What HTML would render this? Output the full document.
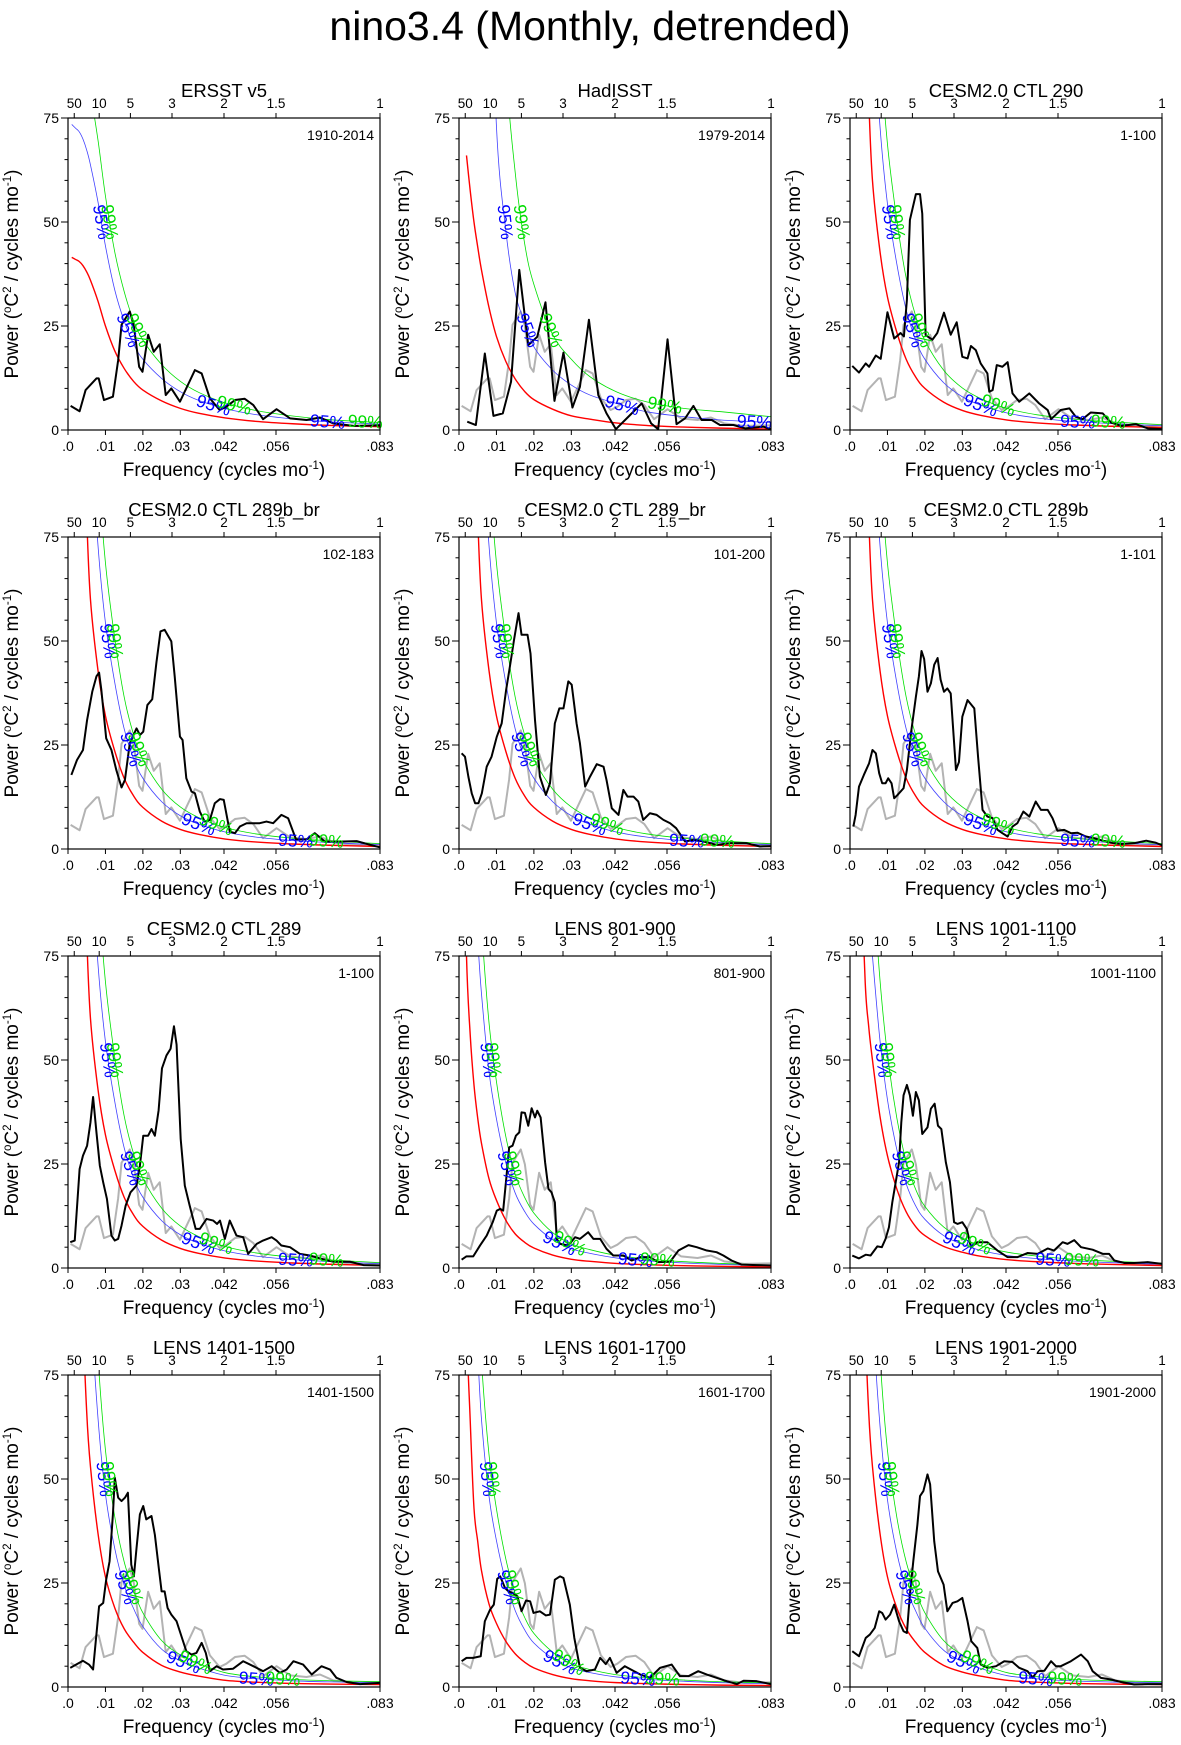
<!DOCTYPE html>
<html><head><meta charset="utf-8"><title>nino3.4 (Monthly, detrended)</title>
<style>
html,body{margin:0;padding:0;background:#fff;}
svg{display:block;font-family:"Liberation Sans",Arial,sans-serif;}
</style></head>
<body>
<svg id="fig" width="1181" height="1745" viewBox="0 0 1181 1745" xmlns="http://www.w3.org/2000/svg">
<rect x="0" y="0" width="1181" height="1745" fill="#fff"/>
<text x="590" y="40" font-size="41" text-anchor="middle">nino3.4 (Monthly, detrended)</text>
</svg>
<script>
// ---- common grids ----
const curveFreq = [0.001,0.002,0.003,0.004,0.005,0.006,0.008,0.010,0.0125,0.015,0.0175,0.02,0.025,0.03,0.035,0.042,0.05,0.06,0.07,0.0833];
const bottomTickValues = [0,0.01,0.02,0.03,0.041667,0.055556,0.083333];
const bottomTickLabels = [".0",".01",".02",".03",".042",".056",".083"];
const topPeriods = [50,10,5,3,2,1.5,1];
const topPeriodLabels = ["50","10","5","3","2","1.5","1"];
const yMajorTicks = [0,25,50,75];
const yMinorTicks = [5,10,15,20,30,35,40,45,55,60,65,70];
const sigLevels = [50,24,6,2];

// ---- red-noise (AR1) spectra, per panel ----
const red1 = [41.5,41,40.5,39.5,38,36,31,25,19,14.8,11.7,9.6,7,5.2,4,2.9,2.1,1.5,1.1,0.8];
const red2 = [null,66,57.5,50,44,38.5,29.5,22.5,16.5,12.3,9.3,7.3,5,3.4,2.6,1.7,1.1,0.7,0.45,0.2];
const blue2 = [null,null,null,null,null,null,130,73,48,33,26,20,14.4,10.8,8.4,6.4,4.4,3.2,2.4,1.8];
const green2 = [null,null,null,null,null,null,null,140,88,62,45,35,23,17,12.8,9.2,6.8,5.2,4.4,3.2];
const redModel = [900,300,170,115,80,60,43,32,23.5,17,12.8,10,6.7,4.7,3.5,2.4,1.7,1.2,0.9,0.6];
const redL801 = [120,75,56,44,36,30,21.5,16.3,11.5,8.2,6.2,4.8,3.1,2.1,1.6,1.1,0.8,0.55,0.4,0.25];
const redL1001 = [400,200,105,70,58,50,36.5,27,19,13.5,10,7.8,5.2,3.8,2.8,2,1.5,1.1,0.85,0.6];
const redL1401 = [500,250,140,90,66,53,37,26.5,19,14,10.8,8.3,5.2,3.6,2.6,1.6,1.15,0.85,0.7,0.6];
const redL1601 = [150,90,64,43,35,28,20,15.3,11,8,6,4.6,3,2,1.5,1.05,0.8,0.6,0.45,0.35];
const redL1901 = [500,250,140,90,66,53,37,26.5,19,14,10.8,8.3,5.2,3.6,2.6,1.6,1.15,0.85,0.7,0.6];

// ---- observed / model spectra (frequency, power) ----
const ersstFreq = [.0007,.0031,.0047,.0076,.0082,.0096,.012,.0134,.0143,.0165,.0176,.019,.0199,.0214,.0229,.0245,.0261,.0276,.0299,.0339,.0357,.0379,.0405,.0423,.0446,.0472,.0495,.0521,.0557,.0593,.0637,.0673,.0708,.0762,.0833];
const ersstPower = [5.8,4.5,9.6,12.4,12.4,7.2,8,16.8,25.3,28.5,24.9,15.2,14,22.9,18.8,20.6,8.4,10,6.8,14.4,13.6,7.6,4.8,5.6,7.2,7.5,6,2.6,5,2.8,2.4,3,1.6,1,1.1];

const hadFreq = [.0022,.0045,.0069,.0092,.0117,.0139,.0161,.0185,.0209,.0231,.0255,.0279,.0303,.0323,.0347,.0372,.0394,.0419,.0457,.0488,.0513,.0532,.0557,.0581,.0604,.0626,.0648,.0675,.0697,.0733,.0764,.0813,.0833];
const hadPower = [2,1.2,18.4,3.4,4,11.6,38.5,20.4,22.4,30.7,7,18.6,5.4,10.4,26.5,8.4,4,0.2,3.6,6.4,1.6,0.2,21.8,1.4,2.8,5.8,2.4,2.4,1.2,1.2,0.4,0.8,0.2];

const c290Freq = [.0006,.0024,.0042,.0051,.0069,.0082,.01,.0118,.0135,.0144,.0152,.016,.0176,.0187,.0193,.0202,.022,.0233,.0251,.0269,.0285,.03,.0314,.0323,.0336,.0349,.0367,.0372,.0381,.0392,.0407,.0421,.0434,.0452,.0479,.0505,.0528,.0537,.0563,.0586,.0603,.0621,.0643,.0675,.0697,.0724,.0764,.0795,.0833];
const c290Power = [15.4,13.8,16,15.2,17.9,17.1,28.3,22,23.3,22.5,31.3,50.5,56.7,56.7,52,22.8,21.7,23.3,28.2,22.9,25.9,17.6,17.2,20.2,19.2,16,13.6,9.2,9.6,15.6,15.2,16.3,8.8,6.8,8.8,6.4,4.8,2.6,4.8,5.2,3.2,2.6,4.2,4,1.8,1,1.4,0.4,0.2];

const c289bbrFreq = [.0009,.0024,.004,.0051,.0065,.0076,.0083,.0089,.0102,.0116,.0129,.0143,.0152,.0165,.0183,.0192,.0201,.0212,.0225,.0236,.0247,.0258,.0276,.0285,.0299,.0306,.0316,.033,.0339,.0352,.0365,.0379,.0392,.0406,.0416,.0432,.0446,.0459,.0477,.0495,.0512,.053,.0548,.057,.0588,.0609,.0637,.0659,.0686,.0735,.0771,.0807,.0833];
const c289bbrPower = [17.8,21.4,23.8,31,37.9,41.5,42.4,38.3,26.6,23.8,19,14.8,16.6,25.4,29,27.4,28.2,34.6,36,44.7,52.3,52.7,49.9,41.5,27,26.2,17,13.8,13.4,9,6.6,7,11,12,11.8,4.2,3.8,5.4,6.2,6.2,6.2,6.6,6.2,8.2,7.4,2.3,2.3,3.8,1.8,1.8,1.9,1,0.4];

const c289brFreq = [.0007,.0016,.0025,.0034,.0043,.0052,.0061,.0074,.0087,.0101,.0114,.0126,.0136,.0147,.0159,.0167,.0183,.0191,.0203,.0216,.0232,.0243,.0256,.0268,.0279,.0292,.0301,.0314,.0323,.0337,.035,.0368,.0386,.0394,.0408,.0426,.0439,.045,.0466,.0479,.0492,.051,.0528,.0546,.0564,.058,.0604,.0626,.0653,.0688,.0724,.0768,.0804,.0833];
const c289brPower = [23,22.2,17.4,13.4,11,11,13.4,19.8,22.2,27,30.2,38.3,43.9,50.3,56.7,51.5,51.5,47,31,17.4,13,15.8,30.2,33.8,33.8,40.3,39.5,30.2,25.4,15,17.4,20.4,19.8,16.6,9.8,8.2,14.2,12.6,12.6,11.4,7,8.6,8.2,7,6.2,5,1.8,2.2,1.8,1,1.4,1.4,0.6,0.7];

const c289bFreq = [.0009,.0015,.0024,.0037,.0051,.006,.0069,.0078,.0086,.0095,.0102,.0111,.0118,.0127,.0143,.0152,.0164,.0176,.0184,.0191,.0198,.0207,.0216,.0225,.0234,.0242,.0251,.026,.0269,.0283,.0291,.03,.0314,.0332,.0342,.0354,.0367,.0381,.0394,.0407,.0421,.0434,.0447,.0463,.0479,.0496,.051,.0528,.0541,.0554,.0572,.059,.0608,.063,.0652,.0675,.0697,.0724,.0759,.0791,.0817,.0833];
const c289bPower = [5.4,8.2,15,17.8,20.6,23.8,23,18.2,15.8,15.8,17,15.8,12.2,13,14.6,19,28.6,36.6,41.5,47.6,45.7,37.8,39.8,44.3,45.9,40.7,37.8,38.6,37.4,19,20.9,31.8,35.8,33.8,22.2,9.4,7.8,7.4,4.6,3.8,3,5.4,6.2,9,7.8,11.4,9.4,9.4,7.4,4.4,4.6,3.8,3.9,3,2.6,2,1.5,1.2,1.4,2,1.5,0.9];

const c289Freq = [.0006,.0018,.0031,.004,.0051,.006,.0067,.0076,.0085,.0094,.0104,.0116,.0125,.0134,.0143,.0154,.0167,.0183,.0192,.0201,.0214,.0223,.0232,.0242,.0251,.0263,.0274,.0283,.029,.0301,.0312,.0325,.0341,.0352,.037,.0388,.0398,.0406,.0419,.0432,.045,.0468,.0481,.0504,.0521,.0544,.0557,.057,.0593,.0619,.0646,.0673,.0709,.0753,.0789,.0833];
const c289Power = [6.2,6.6,23.8,27,29.4,35,41.1,32.6,24.6,20.6,16.6,7.8,6.6,7,10.2,15,18.2,19.8,24.6,31.8,31.8,33.4,31.8,37.9,48,51.1,52.7,58.1,53.7,31,19.8,15,9.4,9.4,11.8,11.4,10.6,11.4,7,11.4,7.8,7.4,3.4,5.8,6.6,7.4,6.6,5.4,5,3.4,3,2.3,1.5,1.5,0.7,0.6];

const l801Freq = [.0007,.002,.0038,.0056,.0074,.009,.0101,.011,.0118,.0127,.0134,.0143,.0152,.0161,.0167,.0176,.0185,.0194,.0203,.0209,.0218,.023,.0239,.0247,.0256,.0261,.027,.0292,.031,.0323,.0345,.0359,.0377,.0394,.0412,.0439,.0461,.0484,.051,.0532,.0564,.0586,.0613,.0635,.0662,.0688,.0706,.0728,.0755,.0795,.0833];
const l801Power = [2,2.8,2.8,5.4,7.8,11,13.8,14.2,13.8,22.2,29,29.4,31.8,32.6,37.4,37.3,34.2,38.4,36.2,37.8,36.2,25.4,19,18.2,15.8,7,5.8,5.4,7.4,7,8.6,7,7,4.6,3,3,1.8,2.6,2.6,1.4,1.5,4.2,5.5,5,4.2,3.8,3,1.8,0.8,0.7,0.6];

const l1001Freq = [.0006,.0024,.0042,.0055,.0073,.0085,.0095,.0104,.0113,.0122,.0131,.0137,.0143,.0152,.016,.0168,.0176,.0184,.0193,.0207,.0216,.0226,.0235,.0244,.0256,.0267,.0278,.0287,.03,.0312,.0323,.034,.0367,.0394,.0421,.0447,.0474,.0501,.0528,.0545,.0568,.0581,.0599,.0617,.0648,.0675,.0692,.0706,.0733,.0759,.0795,.0833];
const l1001Power = [3,2.3,3.2,3,5.2,5,7,9.8,15.8,20.6,25.4,35,41.5,44,41.5,36.6,42.3,40.3,32.2,33.8,38.3,39.5,34.2,33.4,25.4,20.6,11,10.6,11,9.4,5,6.2,6.2,4.2,2.6,2.6,3.6,3.4,4.7,4.2,6.2,5.8,6.7,5,4.4,3.4,3.4,1.8,1.2,1.2,1.4,1];

const l1401Freq = [.0006,.0022,.004,.0056,.0067,.0083,.0094,.0102,.0111,.012,.0125,.0134,.0143,.0152,.016,.0169,.0176,.0183,.0192,.0201,.0209,.0223,.0232,.0243,.025,.0258,.0266,.0276,.029,.0303,.0316,.033,.0343,.0357,.0368,.0379,.0397,.0414,.0441,.0468,.0495,.0521,.0544,.0566,.0584,.0602,.0628,.0651,.0677,.07,.0717,.0744,.078,.0833];
const l1401Power = [4.6,5.4,6.3,5.4,4.2,19.4,20.2,25.8,30.2,41.5,50.3,45.5,44.7,45.5,46.7,29.4,26.6,33.4,41.5,43.5,40.3,41.1,36.6,28.2,23,23,19,17.4,15.8,12.2,8.6,7.8,8.2,10.6,8.2,3.8,5,4.2,4.4,6.2,5,3.8,5,3.4,4.2,6.2,5.4,3,5,4.2,2.2,1.2,0.7,1];

const l1601Freq = [.0007,.002,.0038,.0058,.0069,.0083,.0093,.0102,.011,.0123,.0132,.0143,.0156,.0167,.0179,.019,.0199,.0216,.0232,.0243,.0256,.027,.0279,.0296,.0308,.0323,.0341,.0363,.0377,.0392,.0403,.0421,.0443,.0484,.051,.0537,.0568,.059,.0613,.0639,.0662,.0688,.0715,.0742,.076,.0795,.0833];
const l1601Power = [6.2,7,7,7.4,15.8,18.6,19.8,26,26.6,23.8,23,22.6,21.8,18.2,20.8,20.6,17.8,18.2,17.2,17.4,25.8,26.6,26.2,19.8,11.8,4.6,3.8,4.2,7,5.5,7,3.4,5,3,2.2,4.6,5.4,2.6,2.6,3.8,3,2.2,1.4,0.7,1.5,1.4,0.7];

const l1901Freq = [.0006,.0024,.0042,.0053,.0066,.0078,.0086,.0095,.0107,.0118,.0131,.0143,.0152,.016,.0169,.018,.0187,.0196,.0207,.0214,.0225,.0235,.025,.026,.0274,.0287,.03,.0314,.0324,.034,.0349,.0367,.039,.0412,.0434,.0452,.0474,.0488,.0501,.0519,.0537,.055,.0563,.059,.0617,.0635,.0648,.067,.0697,.0724,.0759,.0795,.0833];
const l1901Power = [8.6,7.4,11.8,12.6,14.2,18.2,17.8,16.2,17.4,19.8,15.8,13.4,13,22.2,30.2,39,45.9,47.1,51.1,48.7,35,27.8,24.6,18.2,20.2,20.6,21.4,15.8,11,9.4,5.4,4.6,5,6.2,6,4.6,3.8,2.3,3.8,3.9,6.2,5,5,6.2,7.8,6.2,3.8,2.2,1.8,1.2,0.6,0.7,0.7];

// ---- layout ----
const colLeft = [68,459,850];
const rowTop = [118,537,956,1375];
const PW = 312, PH = 312, FMAX = 0.083333, YMAX = 75;
const NS = "http://www.w3.org/2000/svg";
const svg = document.getElementById("fig");

const panels = [
 {title:"ERSST v5", period:"1910-2014", fr:ersstFreq, pw:ersstPower, red:red1, bf:1.77, gf:2.25, gray:false},
 {title:"HadISST", period:"1979-2014", fr:hadFreq, pw:hadPower, red:red2, blue:blue2, green:green2, gray:true},
 {title:"CESM2.0 CTL 290", period:"1-100", fr:c290Freq, pw:c290Power, red:redModel, bf:1.7, gf:2.15, gray:true},
 {title:"CESM2.0 CTL 289b_br", period:"102-183", fr:c289bbrFreq, pw:c289bbrPower, red:redModel, bf:1.7, gf:2.15, gray:true},
 {title:"CESM2.0 CTL 289_br", period:"101-200", fr:c289brFreq, pw:c289brPower, red:redModel, bf:1.7, gf:2.15, gray:true},
 {title:"CESM2.0 CTL 289b", period:"1-101", fr:c289bFreq, pw:c289bPower, red:redModel, bf:1.7, gf:2.15, gray:true},
 {title:"CESM2.0 CTL 289", period:"1-100", fr:c289Freq, pw:c289Power, red:redModel, bf:1.7, gf:2.15, gray:true},
 {title:"LENS 801-900", period:"801-900", fr:l801Freq, pw:l801Power, red:redL801, bf:2.2, gf:2.75, gray:true},
 {title:"LENS 1001-1100", period:"1001-1100", fr:l1001Freq, pw:l1001Power, red:redL1001, bf:1.5, gf:1.9, gray:true},
 {title:"LENS 1401-1500", period:"1401-1500", fr:l1401Freq, pw:l1401Power, red:redL1401, bf:1.75, gf:2.15, gray:true},
 {title:"LENS 1601-1700", period:"1601-1700", fr:l1601Freq, pw:l1601Power, red:redL1601, bf:2.3, gf:2.8, gray:true},
 {title:"LENS 1901-2000", period:"1901-2000", fr:l1901Freq, pw:l1901Power, red:redL1901, bf:1.7, gf:2.15, gray:true}
];

function mk(tag, attrs, parent){
  const e = document.createElementNS(NS, tag);
  for (const k in attrs) e.setAttribute(k, attrs[k]);
  (parent||svg).appendChild(e);
  return e;
}
function smooth(pts){
  if (pts.length < 2) return "";
  let d = "M"+pts[0][0].toFixed(2)+","+pts[0][1].toFixed(2);
  for (let i=0;i<pts.length-1;i++){
    const p0 = pts[Math.max(0,i-1)], p1 = pts[i], p2 = pts[i+1], p3 = pts[Math.min(pts.length-1,i+2)];
    const c1x = p1[0]+(p2[0]-p0[0])/6, c1y = p1[1]+(p2[1]-p0[1])/6;
    const c2x = p2[0]-(p3[0]-p1[0])/6, c2y = p2[1]-(p3[1]-p1[1])/6;
    d += " C"+c1x.toFixed(2)+","+c1y.toFixed(2)+" "+c2x.toFixed(2)+","+c2y.toFixed(2)+" "+p2[0].toFixed(2)+","+p2[1].toFixed(2);
  }
  return d;
}
function interp(fs, vs, f){
  for (let i=0;i<fs.length-1;i++){
    if (f>=fs[i] && f<=fs[i+1]) return vs[i]+(vs[i+1]-vs[i])*(f-fs[i])/(fs[i+1]-fs[i]);
  }
  return null;
}

panels.forEach((p, idx) => {
  const L = colLeft[idx%3], T = rowTop[Math.floor(idx/3)];
  const xs = f => L + f/FMAX*PW;
  const ys = v => T + PH - v/YMAX*PH;
  const g = mk("g", {});
  
  
  const cid = "clip"+idx;
  const cp = mk("clipPath", {id:cid}, g);
  mk("rect", {x:L, y:T, width:PW, height:PH}, cp);

  const tt = mk("text", {x:L+156, y:T-21, "font-size":18.5, "text-anchor":"middle"}, g);
  tt.textContent = p.title;
  
  
  const pl = mk("text", {x:L+306, y:T+22, "font-size":14, "text-anchor":"end"}, g);
  pl.textContent = p.period;
  
  

  const cg = mk("g", {"clip-path":"url(#"+cid+")"}, g);
  function gridPts(vals){
    const pts = [];
    curveFreq.forEach((f,i)=>{ if (vals[i]!==null && vals[i]!==undefined) pts.push([xs(f), ys(Math.min(vals[i],400))]); });
    return pts;
  }
  const redVals = p.red;
  const blueVals = p.blue ? p.blue : p.red.map(v => v===null?null:v*p.bf);
  const greenVals = p.green ? p.green : p.red.map(v => v===null?null:v*p.gf);
  if (p.gray){
    const gp = mk("polyline", {points:ersstFreq.map((f,i)=>xs(f).toFixed(2)+","+ys(ersstPower[i]).toFixed(2)).join(" "), fill:"none", stroke:"#b3b3b3", "stroke-width":2, "stroke-linejoin":"round"}, cg);
    
    
  }
  const rp = mk("path", {d:smooth(gridPts(redVals)), fill:"none", stroke:"#ff0000", "stroke-width":1.4}, cg);
  
  
  const bp = mk("path", {d:smooth(gridPts(blueVals)), fill:"none", stroke:"#4040ff", "stroke-width":0.8}, cg);
  
  
  const gp2 = mk("path", {d:smooth(gridPts(greenVals)), fill:"none", stroke:"#00e000", "stroke-width":0.8}, cg);
  
  
  const kp = mk("polyline", {points:p.fr.map((f,i)=>xs(f).toFixed(2)+","+ys(p.pw[i]).toFixed(2)).join(" "), fill:"none", stroke:"#000", "stroke-width":2, "stroke-linejoin":"round"}, cg);
  
  

  function labelCurve(vals, txt, color, name){
    const fs = [], vs = [];
    curveFreq.forEach((f,i)=>{ if (vals[i]!==null) { fs.push(f); vs.push(vals[i]); } });
    sigLevels.forEach(lv => {
      let found = null;
      for (let f=fs[0]; f<=fs[fs.length-1]; f+=0.0001){
        const v = interp(fs, vs, f);
        if (v!==null && v<=lv){ found = f; break; }
      }
      if (found===null || found<=fs[0]+0.00005) return;
      const f1 = Math.max(fs[0], found-0.0008), f2 = Math.min(fs[fs.length-1], found+0.0008);
      const dx = xs(f2)-xs(f1), dy = ys(interp(fs,vs,f2))-ys(interp(fs,vs,f1));
      const ang = Math.atan2(dy, dx)*180/Math.PI;
      const cx = xs(found), cy = ys(lv);
      const t = mk("text", {x:cx, y:cy+6, "font-size":17.5, fill:color, "text-anchor":"middle", transform:"rotate("+ang.toFixed(1)+" "+cx.toFixed(1)+" "+cy.toFixed(1)+")"}, g);
      t.textContent = txt;
      
      
    });
  }
  labelCurve(blueVals, "95%", "#0000ff", "sig95-label");
  labelCurve(greenVals, "99%", "#00dd00", "sig99-label");

  const fr = mk("rect", {x:L, y:T, width:PW, height:PH, fill:"none", stroke:"#000", "stroke-width":1.2}, g);
  
  

  yMajorTicks.forEach(v => {
    mk("line", {x1:L-7, x2:L, y1:ys(v), y2:ys(v), stroke:"#000", "stroke-width":1}, g);
    const t = mk("text", {x:L-9, y:ys(v)+5, "font-size":14, "text-anchor":"end"}, g);
    t.textContent = String(v);
    
    
  });
  yMinorTicks.forEach(v => mk("line", {x1:L-3.5, x2:L, y1:ys(v), y2:ys(v), stroke:"#000", "stroke-width":1}, g));
  bottomTickValues.forEach((f,i) => {
    mk("line", {x1:xs(f), x2:xs(f), y1:T+PH, y2:T+PH+5, stroke:"#000", "stroke-width":1}, g);
    const t = mk("text", {x:xs(f), y:T+PH+21, "font-size":14, "text-anchor":"middle"}, g);
    t.textContent = bottomTickLabels[i];
    
    
  });
  topPeriods.forEach((pd,i) => {
    const f = 1/(12*pd);
    mk("line", {x1:xs(f), x2:xs(f), y1:T-5, y2:T, stroke:"#000", "stroke-width":1}, g);
    const t = mk("text", {x:xs(f), y:T-10, "font-size":13.5, "text-anchor":"middle"}, g);
    t.textContent = topPeriodLabels[i];
    
    
  });
  const xt = mk("text", {x:L+156, y:T+PH+46, "font-size":19, "text-anchor":"middle"}, g);
  xt.innerHTML = 'Frequency (cycles mo<tspan dy="-7" font-size="11.5">-1</tspan><tspan dy="7">)</tspan>';
  
  
  const yx = L-50, yy = T+PH/2;
  const yt = mk("text", {x:yx, y:yy, "font-size":19, "text-anchor":"middle", transform:"rotate(-90 "+yx+" "+yy+")"}, g);
  yt.innerHTML = 'Power (<tspan dy="-7" font-size="11.5">o</tspan><tspan dy="7">C</tspan><tspan dy="-7" font-size="11.5">2</tspan><tspan dy="7"> / cycles mo</tspan><tspan dy="-7" font-size="11.5">-1</tspan><tspan dy="7">)</tspan>';
  
  
});
</script>
</body></html>
